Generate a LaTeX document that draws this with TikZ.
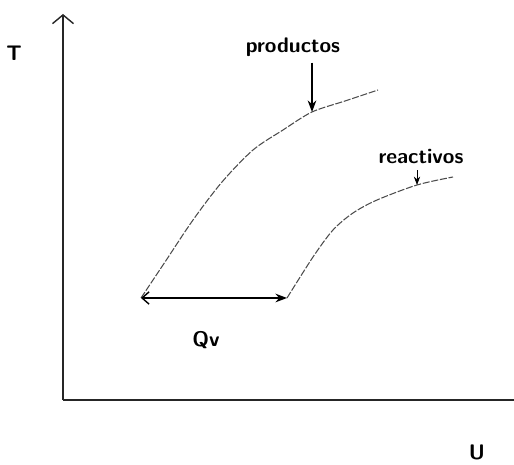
\documentclass[tikz,border=0pt]{standalone}
\usetikzlibrary{arrows.meta,positioning}
\begin{document}
\begin{tikzpicture}[x=.02cm,y=-.02cm,>=Stealth,
			every node/.style={font=\sffamily\bfseries\large},
			axis/.style={line width=.8pt,black!85},
			curve/.style={line width=.6pt,black!70,dash pattern=on 4pt off 1pt}]
			\useasboundingbox (0,0) rectangle (514,465);
			\coordinate (o) at (63,400);
			\coordinate (ytop) at (63,14);
			\coordinate (xend) at (514,400);
			\coordinate (p0) at (141,298);
			\coordinate (r0) at (287,298);
			\coordinate (pa) at (312,112);
			\coordinate (ra) at (417,185);
			% axes
			\draw[axis,-{Straight Barb[length=5pt,width=12pt]}] (o)--(ytop);
			\draw[axis] (o)--(xend);
			% curves
			\draw[curve] plot[smooth] coordinates {(p0) (165,262) (193,220) (222,182) (253,150) (283,130) (pa) (345,101) (378,90)};
			\draw[curve] plot[smooth] coordinates {(r0) (313,257) (333,230) (353,213) (377,200) (ra) (453,177)};
			% labels
			\node (T) at (14,53) {T};
			\node (U) at (477,452) {U};
			\node (prod) at (293,47) {productos};
			\node (reac) at (421,157) {reactivos};
			\node (qv) at (206,340) {Qv};
			\draw[->,thick] (prod.south -| pa) -- (pa);
			\draw[->,thin] (reac.south -| ra) -- (ra);
			\draw[{Straight Barb[length=4pt,width=7pt]}-{Stealth},thick] (p0)--(r0);
		\end{tikzpicture}
\end{document}
